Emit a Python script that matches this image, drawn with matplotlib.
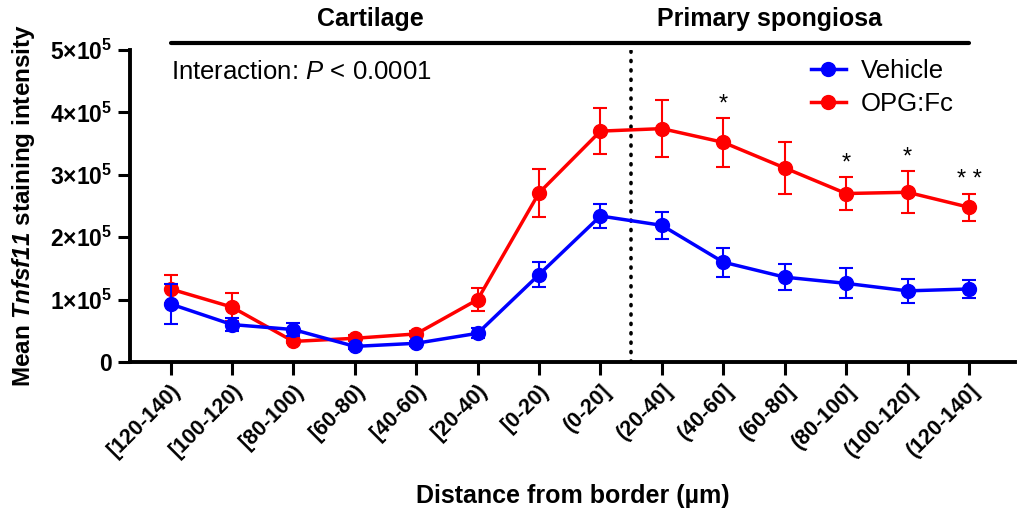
import numpy as np
import matplotlib
matplotlib.use('Agg')
import matplotlib.pyplot as plt

plt.rcParams['font.family'] = ['Liberation Sans', 'DejaVu Sans']
plt.rcParams['mathtext.fontset'] = 'custom'
plt.rcParams['mathtext.bf'] = 'Liberation Sans:bold'
plt.rcParams['mathtext.it'] = 'Liberation Sans:bold:italic'
plt.rcParams['mathtext.rm'] = 'Liberation Sans:bold:italic'
plt.rcParams['mathtext.sf'] = 'Liberation Sans:italic'

labels = ['[120-140)', '[100-120)', '[80-100)', '[60-80)', '[40-60)', '[20-40)',
          '[0-20)', '(0-20]', '(20-40]', '(40-60]', '(60-80]', '(80-100]',
          '(100-120]', '(120-140]']

# means and SEM (x1e5)
vehicle = [0.93, 0.60, 0.52, 0.25, 0.30, 0.46, 1.40, 2.34, 2.19, 1.60, 1.36, 1.26, 1.14, 1.17]
vehicle_err = [0.32, 0.10, 0.11, 0.04, 0.04, 0.08, 0.20, 0.20, 0.22, 0.23, 0.21, 0.24, 0.19, 0.15]
opg = [1.17, 0.88, 0.33, 0.38, 0.45, 1.00, 2.71, 3.70, 3.74, 3.52, 3.11, 2.70, 2.72, 2.48]
opg_err = [0.22, 0.23, 0.03, 0.05, 0.04, 0.18, 0.39, 0.37, 0.46, 0.39, 0.41, 0.26, 0.34, 0.22]

stars = {9: '*', 11: '*', 12: '*', 13: '* *'}

x = np.arange(len(labels))
vehicle = np.array(vehicle) * 1e5
vehicle_err = np.array(vehicle_err) * 1e5
opg = np.array(opg) * 1e5
opg_err = np.array(opg_err) * 1e5

fig = plt.figure(figsize=(10.19, 5.15), dpi=100)
ax = fig.add_axes([130 / 1019, 1 - 362 / 515, (1015 - 130) / 1019, (362 - 50) / 515])

veh = ax.errorbar(x, vehicle, yerr=vehicle_err, color='#0000ff', lw=2.5, marker='o', ms=10,
                  capsize=5, capthick=1.5, elinewidth=1.5, zorder=3)
opgc = ax.errorbar(x, opg, yerr=opg_err, color='#ff0000', lw=2.5, marker='o', ms=10,
                   capsize=5, capthick=1.5, elinewidth=1.5, zorder=2)

for i, s in stars.items():
    ax.text(x[i], opg[i] + opg_err[i] + 0.04e5, s, ha='center', va='bottom', fontsize=17)

ax.axvline(7.5, ymin=0, ymax=1, color='black', ls=(0, (0.3, 2.3)), lw=2.6,
           dash_capstyle='round', zorder=1)

ax.set_xlim(-0.66, 13.75)
ax.set_ylim(0, 5e5)
ax.set_yticks(np.arange(0, 6) * 1e5)
ax.set_yticklabels(['0'] + [r'$\mathbf{%d{\times}10^{5}}$' % k for k in range(1, 6)])
ax.set_xticks(x)
ax.set_xticklabels(labels, rotation=45, ha='right', rotation_mode='anchor')
for t in ax.get_xticklabels():
    t.set_fontweight('bold')
    t.set_fontsize(15.5)
for t in ax.get_yticklabels():
    t.set_fontweight('bold')
    t.set_fontsize(16.5)
ax.tick_params(width=2.2, length=9, pad=4)

for s in ['top', 'right']:
    ax.spines[s].set_visible(False)
for s in ['left', 'bottom']:
    ax.spines[s].set_linewidth(2.8)

ax.set_xlabel('Distance from border (µm)', fontsize=18, fontweight='bold', va='top')
ax.xaxis.set_label_coords(0.5, -0.39)
ax.set_ylabel(r'Mean $\mathit{Tnfsf11}$ staining intensity', fontsize=17.5, fontweight='bold')
ax.yaxis.set_label_coords(-0.105, 0.5)

# region bars
ytop = 5.11e5
ax.plot([0, 6.5], [ytop, ytop], color='black', lw=3, clip_on=False, solid_capstyle='round')
ax.plot([6.5, 13], [ytop, ytop], color='black', lw=3, clip_on=False, solid_capstyle='round')
ax.text(3.25, 5.5e5, 'Cartilage', ha='center', va='center', fontsize=18, fontweight='bold')
ax.text(9.75, 5.5e5, 'Primary spongiosa', ha='center', va='center', fontsize=18, fontweight='bold')

ax.text(0.0, 4.65e5, r'Interaction: $\mathsf{P}$ < 0.0001', ha='left', va='center', fontsize=18.5)

leg = ax.legend([veh[0], opgc[0]], ['Vehicle', 'OPG:Fc'], loc='upper right',
                bbox_to_anchor=(0.957, 1.045), frameon=False, fontsize=18.5,
                handlelength=1.35, handletextpad=0.6, labelspacing=0.35)

fig.savefig('out.png', dpi=100)
